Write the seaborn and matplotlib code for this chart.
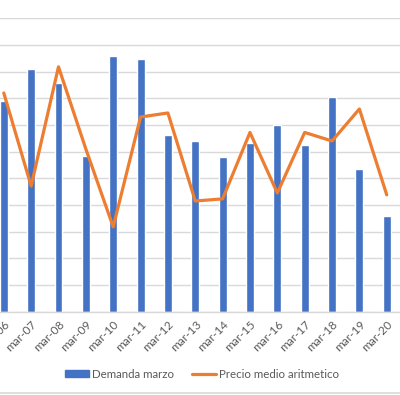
import matplotlib
matplotlib.use("Agg")
import matplotlib.pyplot as plt
import matplotlib.transforms as mtransforms
from matplotlib.lines import Line2D
import seaborn as sns
import pandas as pd

# ---- data (y in units of gridlines) ----
years = ["mar-06", "mar-07", "mar-08", "mar-09", "mar-10", "mar-11", "mar-12",
         "mar-13", "mar-14", "mar-15", "mar-16", "mar-17", "mar-18", "mar-19", "mar-20"]
demanda = [7.91, 9.10, 8.59, 5.84, 9.60, 9.46, 6.63, 6.41, 5.81, 6.34, 6.99, 6.25, 8.06, 5.35, 3.60]
precio = [8.20, 4.71, 9.18, 6.10, 3.18, 7.30, 7.45, 4.15, 4.23, 6.72, 4.45, 6.72, 6.40, 7.60, 4.38]

bar_name = "Demanda marzo"
line_name = "Precio medio aritmetico"

BLUE = "#4472C4"
ORANGE = "#ED7D31"
GRID = "#D9D9D9"
TXT = "#595959"

sns.set_theme(style="white")
plt.rcParams["font.family"] = ["Lato", "DejaVu Sans"]

df = pd.DataFrame({"year": years, "demanda": demanda, "precio": precio})

fig = plt.figure(figsize=(4.0, 3.95), dpi=100)
ax = fig.add_axes([-0.02475, 0.2109, 1.0258, 0.7428])

sns.barplot(data=df, x="year", y="demanda", color=BLUE, width=0.29,
            saturation=1, ax=ax, label=bar_name, zorder=2)
ax.set_ylim(0, 11)
ax.set_xlim(-0.5, 14.5)
ax.set_yticks(range(0, 12))
ax.yaxis.grid(True, color=GRID, linewidth=1.0, zorder=0)
ax.set_axisbelow(True)
ax.tick_params(axis="y", left=False, labelleft=False)
for s in ["top", "left", "right"]:
    ax.spines[s].set_visible(False)
ax.spines["bottom"].set_color(GRID)
ax.spines["bottom"].set_linewidth(1.0)
ax.set_xlabel("")
ax.set_ylabel("")

ax2 = ax.twinx()
sns.lineplot(data=df, x="year", y="precio", sort=False, color=ORANGE,
             linewidth=2.3, ax=ax2, label=line_name, zorder=3)
ax2.set_ylim(0, 11)
ax2.set_xlim(-0.5, 14.5)
ax2.tick_params(axis="y", right=False, labelright=False)
for s in ["top", "left", "right", "bottom"]:
    ax2.spines[s].set_visible(False)
ax2.set_ylabel("")
ax2.set_xlabel("")
if ax2.get_legend():
    ax2.get_legend().remove()
if ax.get_legend():
    ax.get_legend().remove()

# x tick labels
ax.set_xticks(range(len(years)))
ax.set_xticklabels(years, rotation=45, ha="right", va="center",
                   rotation_mode="anchor", fontsize=8.5, color=TXT)
ax.tick_params(axis="x", which="major", length=0, pad=8)
ax.set_xticks([1.5, 3.5, 5.5, 7.5, 9.5, 11.5, 13.5], minor=True)
ax.tick_params(axis="x", which="minor", length=4, color=GRID, width=1.0)
offset = mtransforms.ScaledTranslation(4 / 100, 0, fig.dpi_scale_trans)
for lab in ax.get_xticklabels():
    lab.set_transform(lab.get_transform() + offset)

# legend
handles = [plt.Rectangle((0, 0), 1, 1, color=BLUE),
           Line2D([0], [0], color=ORANGE, linewidth=2.3)]
leg = fig.legend(handles, [bar_name, line_name], loc="center",
                 bbox_to_anchor=(0.505, 0.053), ncol=2, frameon=False,
                 fontsize=8.3, handlelength=2.1, handleheight=0.6,
                 handletextpad=0.25, columnspacing=1.6, labelcolor=TXT)

fig.add_artist(Line2D([0, 1], [0.005, 0.005], transform=fig.transFigure,
                      color=GRID, linewidth=1.2))

fig.savefig("out.png", dpi=100)
